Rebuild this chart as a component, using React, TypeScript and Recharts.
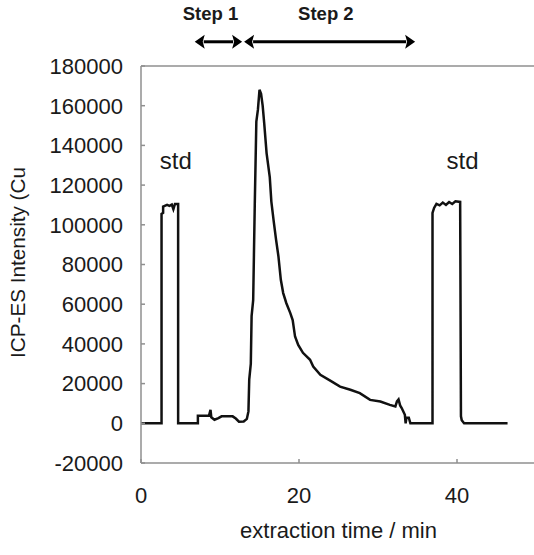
import React from 'react';
import { LineChart, Line, XAxis, YAxis, ReferenceLine, ReferenceDot } from 'recharts';

// extraction time (min) and ICP-ES intensity (Cu)
const time = [
  0, 2.6, 2.6, 2.8, 2.8, 3.3, 3.6, 3.9, 4.1, 4.3, 4.7, 4.7,
  7.2, 7.2, 8.6, 8.8, 8.9, 9.3, 9.8, 10.2, 11.6, 12.0, 12.4, 13.0, 13.4, 13.6,
  13.7, 13.9, 14.0, 14.2, 14.4, 14.6, 14.8, 15.0, 15.2, 15.4, 15.6,
  15.9, 16.3, 16.5, 16.8, 17.1, 17.4, 17.7, 18.0, 18.4, 18.9, 19.2, 19.5, 19.9,
  20.5, 21.4, 21.8, 22.7, 23.9, 25.2, 26.5, 27.7, 29.0, 30.3, 31.5, 32.2,
  32.4, 32.6, 32.8, 33.0, 33.4, 33.5, 33.6, 33.9, 34.1,
  36.9, 36.9, 37.1, 37.4, 37.8, 38.2, 38.6, 39.0, 39.4, 39.8, 40.4,
  40.5, 40.6, 40.9, 46.4,
];
const intensity = [
  0, 0, 105500, 106000, 109200, 110000, 109500, 110200, 107900, 110500, 110500, 0,
  0, 3800, 3800, 6800, 3000, 1800, 2600, 3500, 3500, 2400, 800, 900, 2200, 6000,
  22000, 30000, 54000, 62000, 110000, 152000, 158000, 168000, 166000, 160000, 151000,
  136000, 124000, 111700, 101700, 92400, 84000, 72300, 65600, 60500, 55500, 52000, 43700, 39500,
  35500, 32000, 28600, 24400, 21600, 18500, 16900, 15200, 11800, 11000, 9300, 8500,
  11000, 12000, 9000, 7700, 4300, 0, 2800, 2800, 0,
  0, 106000, 108500, 110500, 109800, 111200, 110000, 111500, 110500, 111800, 111500,
  3500, 1500, 0, 0,
];

const xTicks = [0, 20, 40];
const yTicks = [-20000, 0, 20000, 40000, 60000, 80000, 100000, 120000, 140000, 160000, 180000];

const stepLabels = ['Step 1', 'Step 2'];
const stepFrom = [6.8, 13.05];
const stepTo = [12.8, 34.7];
const stepLabelX = [8.8, 23.4];
const stepLabelY = 206300;
const stepArrowY = 192200;

const stdLabels = ['std', 'std'];
const stdX = [4.4, 40.7];
const stdY = 132500;

const data = time.map((t, i) => ({ t, v: intensity[i] }));

const FONT = '"Liberation Sans", Arial, sans-serif';
const AXIS = '#8f8f8f';
const TEXT = '#1a1a1a';

function DoubleArrow(props: any) {
  const { x1, y1, x2 } = props;
  const len = 10;
  const half = 7;
  return (
    <g>
      <line x1={x1 + len - 1} y1={y1} x2={x2 - len + 1} y2={y1} stroke="#000" strokeWidth={3} />
      <polygon points={`${x1},${y1} ${x1 + len},${y1 - half} ${x1 + len - 2},${y1} ${x1 + len},${y1 + half}`} fill="#000" />
      <polygon points={`${x2},${y1} ${x2 - len},${y1 - half} ${x2 - len + 2},${y1} ${x2 - len},${y1 + half}`} fill="#000" />
    </g>
  );
}

function YLabel(props: any) {
  const vb = props.viewBox || { x: 0, y: 66, width: 141, height: 397 };
  const x = vb.x + 25;
  const y = vb.y + vb.height / 2 - 2;
  return (
    <text x={x} y={y} transform={`rotate(-90 ${x} ${y})`} textAnchor="middle" fontSize={20.7} fill={TEXT} fontFamily={FONT}>
      ICP-ES Intensity (Cu
    </text>
  );
}

export default function App() {
  return (
    <div style={{ position: 'absolute', left: 0, top: 0, width: 534, height: 555, overflow: 'hidden', background: '#fff', fontFamily: FONT }}>
      <LineChart width={545} height={555} data={data} margin={{ top: 66, right: 9, bottom: 0, left: 0 }}>
        <XAxis
          dataKey="t"
          type="number"
          domain={[0, 50]}
          ticks={xTicks}
          interval={0}
          allowDataOverflow
          height={92}
          stroke={AXIS}
          strokeWidth={1.5}
          tickSize={-4}
          tickMargin={28}
          tick={{ fontSize: 22, fill: TEXT }}
          label={{ value: 'extraction time / min', position: 'insideBottom', offset: 17, fontSize: 22, fill: TEXT }}
        />
        <YAxis
          type="number"
          domain={[-20000, 180000]}
          ticks={yTicks}
          interval={0}
          allowDataOverflow
          width={141}
          stroke={AXIS}
          strokeWidth={1.5}
          tickSize={-4}
          tickMargin={22}
          tick={{ fontSize: 22, fill: TEXT }}
          label={<YLabel />}
        />
        <ReferenceLine y={180000} stroke={AXIS} strokeWidth={1.5} />
        <Line
          type="linear"
          dataKey="v"
          stroke="#111"
          strokeWidth={2.5}
          dot={false}
          isAnimationActive={false}
        />
        {stepLabels.map((s, i) => (
          <ReferenceLine
            key={'arrow' + i}
            segment={[{ x: stepFrom[i], y: stepArrowY }, { x: stepTo[i], y: stepArrowY }]}
            ifOverflow="visible"
            shape={DoubleArrow}
          />
        ))}
        {stepLabels.map((s, i) => (
          <ReferenceDot
            key={'step' + i}
            x={stepLabelX[i]}
            y={stepLabelY}
            r={0}
            fill="none"
            stroke="none"
            ifOverflow="visible"
            label={{ value: s, position: 'center', fontSize: 18.5, fontWeight: 'bold', fill: TEXT }}
          />
        ))}
        {stdLabels.map((s, i) => (
          <ReferenceDot
            key={'std' + i}
            x={stdX[i]}
            y={stdY}
            r={0}
            fill="none"
            stroke="none"
            ifOverflow="visible"
            label={{ value: s, position: 'center', fontSize: 24, fill: TEXT }}
          />
        ))}
      </LineChart>
    </div>
  );
}
